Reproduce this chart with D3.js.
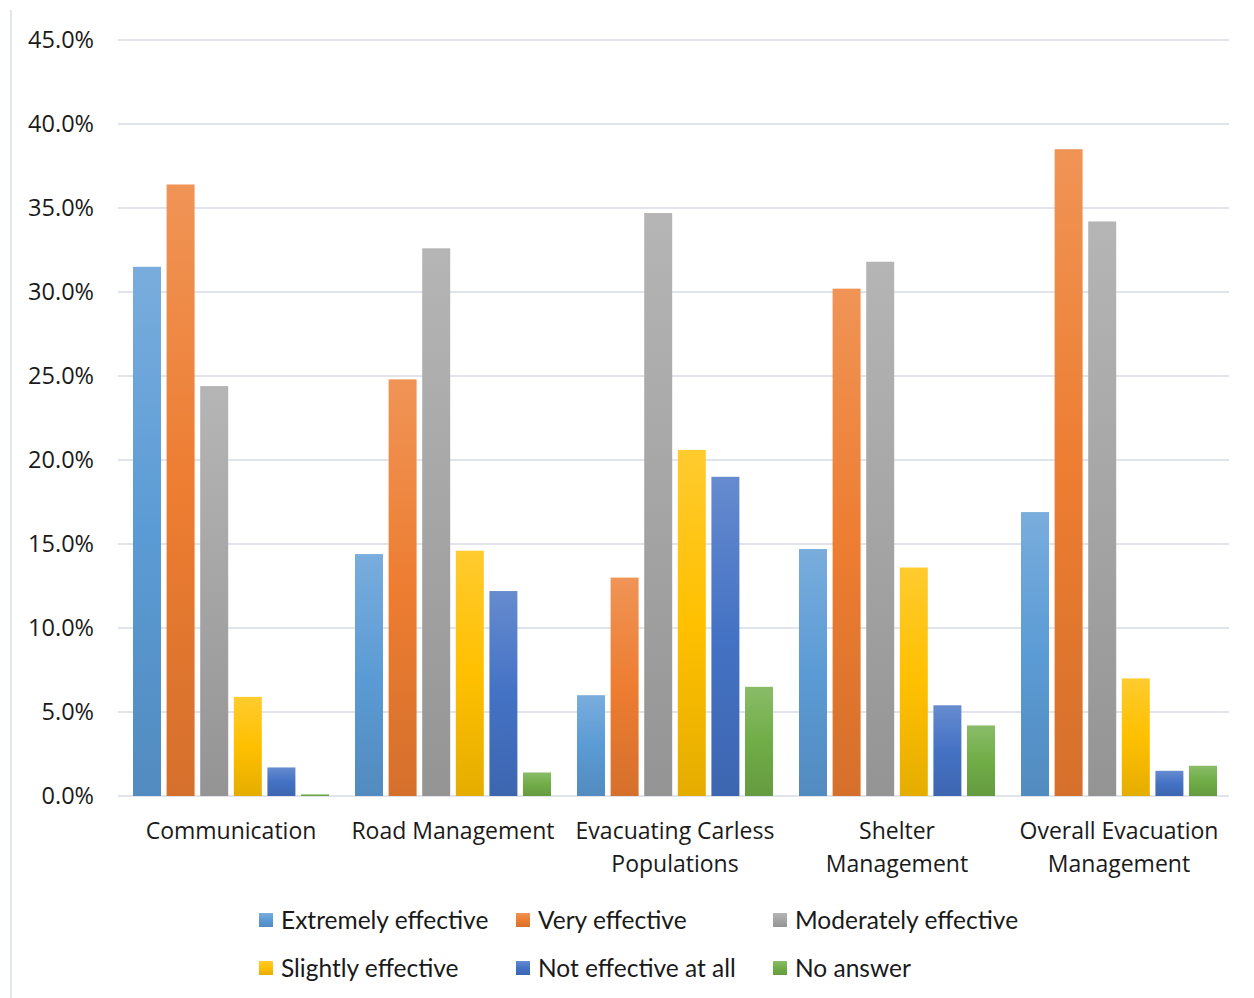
<!DOCTYPE html>
<html><head><meta charset="utf-8">
<script src="https://cdn.jsdelivr.net/npm/d3@7"></script>
<style>body{margin:0;background:#fff}svg{display:block}</style>
</head><body>
<svg id="chart" width="1254" height="998"></svg>
<script>
const categories = [["Communication"],["Road Management"],["Evacuating Carless","Populations"],["Shelter","Management"],["Overall Evacuation","Management"]];
const seriesNames = ["Extremely effective","Very effective","Moderately effective","Slightly effective","Not effective at all","No answer"];
const extremely = [31.5, 14.4, 6.0, 14.7, 16.9];
const very = [36.4, 24.8, 13.0, 30.2, 38.5];
const moderately = [24.4, 32.6, 34.7, 31.8, 34.2];
const slightly = [5.9, 14.6, 20.6, 13.6, 7.0];
const notAtAll = [1.7, 12.2, 19.0, 5.4, 1.5];
const noAnswer = [0.1, 1.4, 6.5, 4.2, 1.8];
const yTicks = [0,5,10,15,20,25,30,35,40,45];
const colors = ["#5B9BD5","#ED7D31","#A5A5A5","#FFC000","#4472C4","#70AD47"];

const series = [extremely, very, moderately, slightly, notAtAll, noAnswer];
const svg = d3.select("#chart");
const mLeft = 120, mRight = 1230, mTop = 40, mBottom = 796;

const defs = svg.append("defs");
colors.forEach((c,i)=>{
  const g = defs.append("linearGradient").attr("id","g"+i).attr("x1",0).attr("y1",0).attr("x2",0).attr("y2",1);
  g.append("stop").attr("offset","0%").attr("stop-color", d3.interpolateRgb(c,"#fff")(0.18));
  g.append("stop").attr("offset","50%").attr("stop-color", c);
  g.append("stop").attr("offset","100%").attr("stop-color", d3.color(c).darker(0.3));
});

// chart border left
svg.append("line").attr("x1",11).attr("x2",11).attr("y1",10).attr("y2",998).attr("stroke","#D9DEE7").attr("stroke-width",1.5);

const y = d3.scaleLinear().domain([0,45]).range([mBottom, mTop]);
const x0 = d3.scaleBand().domain(d3.range(categories.length)).range([mLeft, mRight]);
const x1 = d3.scaleBand().domain(d3.range(seriesNames.length)).range([0, x0.bandwidth()]).paddingInner(0.167).paddingOuter(0.387);

// gridlines
svg.append("g").selectAll("line").data(yTicks).join("line")
  .attr("x1", 118).attr("x2", 1229).attr("y1", d=>y(d)).attr("y2", d=>y(d))
  .attr("stroke","#E1E5EB").attr("stroke-width",2);

// y labels
svg.append("g").selectAll("text").data(yTicks).join("text")
  .attr("x", 94).attr("y", d=>y(d)).attr("dy","0.36em").attr("text-anchor","end")
  .attr("font-family","'Open Sans', sans-serif").attr("font-size",23.5).attr("fill","#1a1a1a")
  .text(d=>d.toFixed(1)+"%");

// bars
const groups = svg.append("g").selectAll("g").data(categories).join("g")
  .attr("transform",(d,i)=>`translate(${x0(i)},0)`);
groups.selectAll("rect").data((d,i)=>series.map((s,j)=>({j, v:s[i]}))).join("rect")
  .attr("x", d=>x1(d.j)).attr("width", x1.bandwidth())
  .attr("y", d=>y(d.v)).attr("height", d=>y(0)-y(d.v))
  .attr("fill", d=>`url(#g${d.j})`);

// category labels
groups.append("text").attr("x", x0.bandwidth()/2).attr("text-anchor","middle")
  .attr("font-family","'Open Sans', sans-serif").attr("font-size",23).attr("fill","#1a1a1a")
  .selectAll("tspan").data(d=>d).join("tspan")
  .attr("x", x0.bandwidth()/2).attr("y",(d,k)=>839 + k*33).text(d=>d);

// legend
const legX = [259, 516, 773];
const legY = [920, 968];
const leg = svg.append("g").selectAll("g").data(seriesNames).join("g")
  .attr("transform",(d,i)=>`translate(${legX[i%3]},${legY[Math.floor(i/3)]})`);
leg.append("rect").attr("x",0).attr("y",-7).attr("width",14).attr("height",14).attr("fill",(d,i)=>`url(#g${i})`);
leg.append("text").attr("x",22).attr("y",0).attr("dy","0.36em")
  .attr("font-family","Lato, sans-serif").attr("font-size",24.5).attr("fill","#1a1a1a").text(d=>d);
</script>
</body></html>
